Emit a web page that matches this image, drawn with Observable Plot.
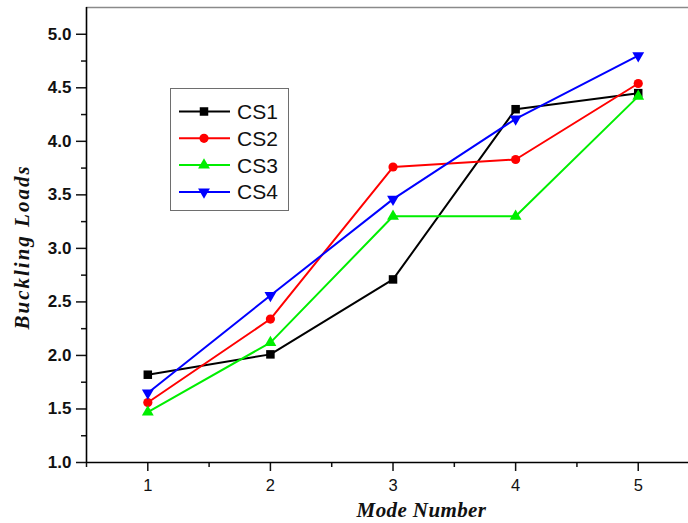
<!DOCTYPE html>
<html>
<head>
<meta charset="utf-8">
<script src="https://cdn.jsdelivr.net/npm/d3@7"></script>
<script src="https://cdn.jsdelivr.net/npm/@observablehq/plot@0.6"></script>
<style>
  html, body { margin: 0; padding: 0; background: #fff; }
  #wrap { position: relative; width: 688px; height: 523px; font-family: Arial, "Liberation Sans", sans-serif; }
  #legend { position: absolute; left: 170px; top: 88px; }
</style>
</head>
<body>
<div id="wrap"><div id="chart"></div><div id="legend"></div></div>
<script>
const modes = [1, 2, 3, 4, 5];
const seriesNames = ["CS1", "CS2", "CS3", "CS4"];
const cs1 = [1.82, 2.01, 2.71, 4.30, 4.45];
const cs2 = [1.56, 2.34, 3.76, 3.83, 4.54];
const cs3 = [1.47, 2.12, 3.30, 3.30, 4.42];
const cs4 = [1.65, 2.56, 3.46, 4.21, 4.80];
const yTicks = [1.0, 1.5, 2.0, 2.5, 3.0, 3.5, 4.0, 4.5, 5.0];
const yMinor = [1.25, 1.75, 2.25, 2.75, 3.25, 3.75, 4.25, 4.75];
const xTicks = [1, 2, 3, 4, 5];
const xMinor = [0.5, 1.5, 2.5, 3.5, 4.5];

const colors = ["#000000", "#ff0000", "#00ee00", "#0000ff"];
const symbols = ["square", "circle", "triangle", "triangle"];
const rotations = [0, 0, 0, 180];
const radii = [4.8, 4.6, 4.4, 4.4];

const values = [cs1, cs2, cs3, cs4];
const data = [];
seriesNames.forEach((s, i) => modes.forEach((m, j) => data.push({series: s, mode: m, load: values[i][j]})));

const marks = [
  Plot.ruleY([5.25], {stroke: "#8a8a8a", strokeWidth: 1.5}),
  Plot.axisY({ticks: yTicks, tickSize: 10, tickPadding: 5, tickFormat: d3.format(".1f"),
    fontSize: 17, fontWeight: "bold", label: null, strokeWidth: 1.5}),
  Plot.axisY({ticks: yMinor, tickSize: 5, tickFormat: () => "", label: null, strokeWidth: 1.5}),
  Plot.axisX({ticks: xTicks, tickSize: 9, tickPadding: 8, tickFormat: d3.format("d"), fontSize: 16.5, label: null, strokeWidth: 1.5}),
  Plot.axisX({ticks: xMinor, tickSize: 5, tickFormat: () => "", label: null, strokeWidth: 1.5}),
  Plot.ruleY([1], {stroke: "#000", strokeWidth: 1.6}),
  Plot.ruleX([0.5], {stroke: "#000", strokeWidth: 1.6}),
];
seriesNames.forEach((s, i) => {
  const d = data.filter(r => r.series === s);
  marks.push(Plot.line(d, {x: "mode", y: "load", stroke: colors[i], strokeWidth: 2}));
  marks.push(Plot.dot(d, {x: "mode", y: "load", fill: colors[i], stroke: "none",
    symbol: symbols[i], r: radii[i], rotate: rotations[i]}));
});
marks.push(Plot.text(["Mode Number"], {frameAnchor: "bottom", lineAnchor: "middle", textAnchor: "middle", dx: 34, dy: 48,
  fontSize: 21, fontWeight: "bold", fontStyle: "italic", fontFamily: "'Times New Roman', 'Liberation Serif', serif", fill: "#111",
  className: "xtitle"}));
marks.push(Plot.text(["Buckling Loads"], {frameAnchor: "left", lineAnchor: "middle", textAnchor: "middle", dx: -64, dy: 12, rotate: -90,
  fontSize: 21, fontWeight: "bold", fontStyle: "italic", fontFamily: "'Times New Roman', 'Liberation Serif', serif", fill: "#111",
  className: "ytitle"}));

const chart = Plot.plot({
  width: 688, height: 523,
  marginLeft: 86, marginRight: 0, marginTop: 7, marginBottom: 61,
  style: {fontFamily: "Arial, 'Liberation Sans', sans-serif", color: "#111", background: "#fff", overflow: "visible"},
  x: {domain: [0.5, 5.41]},
  y: {domain: [1, 5.25]},
  marks
});
document.getElementById("chart").append(chart);
d3.select(chart).selectAll(".ytitle text").style("letter-spacing", "2px");
d3.select(chart).selectAll(".xtitle text").style("letter-spacing", "0.4px");

// Legend (inside plot area, drawn with d3 symbols)
const lg = d3.select("#legend").append("svg").attr("width", 119).attr("height", 123);
lg.append("rect").attr("x", 0.5).attr("y", 0.5).attr("width", 118).attr("height", 122)
  .attr("fill", "#fff").attr("stroke", "#6e6e6e").attr("stroke-width", 1);
const symMap = {square: d3.symbolSquare, circle: d3.symbolCircle, triangle: d3.symbolTriangle};
seriesNames.forEach((s, i) => {
  const cy = 23.5 + i * 26.8;
  const g = lg.append("g");
  g.append("line").attr("x1", 9).attr("x2", 60).attr("y1", cy).attr("y2", cy)
    .attr("stroke", colors[i]).attr("stroke-width", 2);
  g.append("path").attr("d", d3.symbol(symMap[symbols[i]], Math.PI * radii[i] * radii[i])())
    .attr("transform", `translate(34,${cy}) rotate(${rotations[i]})`).attr("fill", colors[i]);
  g.append("text").attr("x", 67).attr("y", cy).attr("dy", "0.36em")
    .attr("font-size", 21).attr("fill", "#111").text(s);
});
</script>
</body>
</html>
